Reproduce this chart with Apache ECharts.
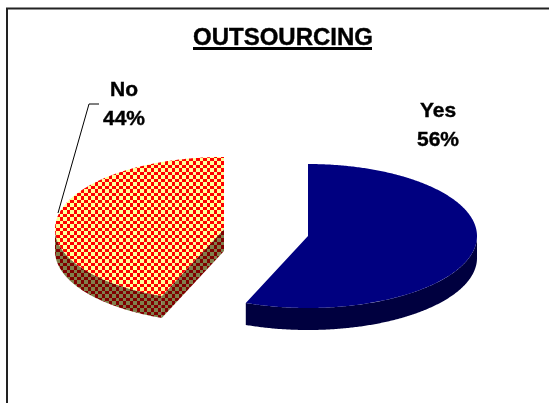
<!DOCTYPE html>
<html>
<head>
<meta charset="utf-8">
<style>html,body{margin:0;padding:0;background:#fff}#chart{width:549px;height:403px}</style>
<script src="https://cdn.jsdelivr.net/npm/echarts@6/dist/echarts.min.js"></script>
</head>
<body>
<div id="chart"></div>
<script>
// Outsourcing split, percent of respondents
const categories = ['Yes', 'No'];
const shares = [56, 44];
const chartTitle = 'OUTSOURCING';

const FONT = '"Liberation Sans", Arial, sans-serif';
const RX = 169, RY = 72, DEPTH = 22;

// Exploded tilted pie: each slice has its own apex and label anchor
const sliceLayout = {
  Yes: { cx: 308, cy: 236, labelX: 438, labelY: 97 },
  No: { cx: 224, cy: 229, labelX: 124, labelY: 76, leader: [[99, 104], [89, 104], [58, 213]] }
};

// Two-colour check with a 7px repeat
function checker(a, b) {
  const c = document.createElement('canvas');
  c.width = c.height = 7;
  const g = c.getContext('2d');
  g.fillStyle = a; g.fillRect(0, 0, 7, 7);
  g.fillStyle = b; g.fillRect(0, 0, 4, 4); g.fillRect(4, 4, 3, 3);
  return { image: c, repeat: 'repeat' };
}

const fills = {
  Yes: { top: '#000080', wall: '#00003f' },
  No: { top: checker('#ff0000', '#ffff99'), wall: checker('#800000', '#80804c') }
};

const total = shares.reduce((a, b) => a + b, 0);

// Angles run clockwise from twelve o'clock, in degrees
function rim(l, deg, dy) {
  const t = deg * Math.PI / 180;
  return [l.cx + RX * Math.sin(t), l.cy + (dy || 0) - RY * Math.cos(t)];
}
function arc(l, from, to, dy) {
  const pts = [];
  const n = Math.max(2, Math.ceil(Math.abs(to - from) * 2));
  for (let i = 0; i <= n; i++) pts.push(rim(l, from + (to - from) * i / n, dy));
  return pts;
}

function renderSlice(params, api) {
  const i = params.dataIndex;
  const name = categories[i];
  const value = api.value(0);
  const start = shares.slice(0, i).reduce((a, b) => a + b, 0) / total * 360;
  const end = start + value / total * 360;
  const l = sliceLayout[name];
  const f = fills[name];
  const children = [];

  // Outer wall: the part of the rim on the viewer's side (90 to 270 degrees)
  const a0 = Math.max(start, 90), a1 = Math.min(end, 270);
  if (a1 > a0) {
    children.push({
      type: 'polygon',
      shape: { points: arc(l, a0, a1, 0).concat(arc(l, a1, a0, DEPTH)) },
      style: { fill: f.wall }
    });
  }
  // Cut face, visible when the slice's leading radius faces the viewer
  if (start > 180 && start < 360) {
    const p = rim(l, start, 0);
    children.push({
      type: 'polygon',
      shape: { points: [[l.cx, l.cy], p, [p[0], p[1] + DEPTH], [l.cx, l.cy + DEPTH]] },
      style: { fill: f.wall }
    });
  }
  // Top face
  children.push({
    type: 'polygon',
    shape: { points: [[l.cx, l.cy]].concat(arc(l, start, end, 0)) },
    style: { fill: f.top }
  });
  if (l.leader) {
    children.push({
      type: 'polyline',
      shape: { points: l.leader },
      style: { fill: null, stroke: '#000', lineWidth: 1 }
    });
  }
  children.push({
    type: 'text',
    style: {
      x: l.labelX, y: l.labelY,
      text: name + '\n' + value + '%',
      fill: '#000',
      stroke: '#000',
      lineWidth: 0.4,
      font: 'bold 21px ' + FONT,
      lineHeight: 29,
      align: 'center',
      verticalAlign: 'top'
    }
  });
  return { type: 'group', children };
}

const chart = echarts.init(document.getElementById('chart'), null, { renderer: 'canvas' });
chart.setOption({
  animation: false,
  backgroundColor: '#fff',
  title: {
    text: chartTitle,
    left: 278, top: 21,
    textAlign: 'center',
    textVerticalAlign: 'top',
    textStyle: {
      fontFamily: FONT, fontWeight: 'bold', fontSize: 24, color: '#000',
      textBorderColor: '#000', textBorderWidth: 0.4
    }
  },
  graphic: [
    { type: 'polyline', shape: { points: [[7, 403], [7, 8.5], [549, 8.5]] }, style: { fill: null, stroke: '#222', lineWidth: 2 } },
    { type: 'rect', shape: { x: 193, y: 47, width: 179, height: 3 }, style: { fill: '#000' } }
  ],
  series: [{
    type: 'custom',
    coordinateSystem: 'none',
    data: shares.map((v, i) => ({ name: categories[i], value: [v] })),
    renderItem: renderSlice
  }]
});
</script>
</body>
</html>
